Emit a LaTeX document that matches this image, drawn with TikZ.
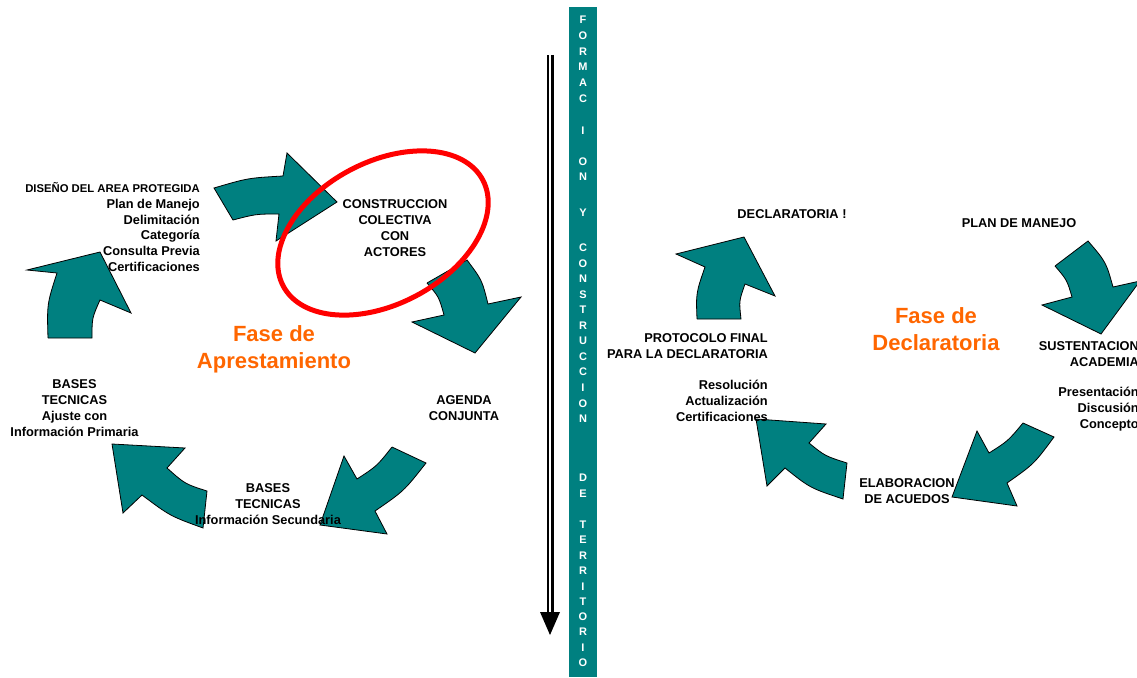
\documentclass[tikz,border=0pt]{standalone}
\usepackage{fontspec}
\setmainfont{Liberation Sans}
\definecolor{peacock}{rgb}{0.0, 0.5, 0.5}
\definecolor{pumpkin}{rgb}{1.0, 0.4, 0.0}
\begin{document}
\begin{tikzpicture}[x=1pt,y=-1pt,
    flecha/.style={fill=peacock,draw=black,line width=0.8pt},
    rotulo/.style={font=\bfseries\fontsize{12.8}{15.8}\selectfont,inner sep=0pt},
    fase/.style={font=\bfseries\fontsize{22}{27}\selectfont,text=pumpkin,align=center,inner sep=0pt},
    letra/.style={font=\bfseries\fontsize{11}{11}\selectfont,text=white,inner sep=0pt}]
\useasboundingbox (0,0) rectangle (1137,677);

% ciclo de aprestamiento
\filldraw[flecha] (214,188) .. controls (248,178) .. (283,176) -- (287,153) -- (337,202) -- (276,241) -- (279,214) .. controls (256,214) .. (233,220) -- cycle;
\filldraw[flecha] (427,283) -- (467,260) .. controls (482,280) .. (488,304) -- (521,297) -- (475,353) -- (412,322) -- (444,315) .. controls (439,297) .. (427,283);
\filldraw[flecha] (392,447) -- (426,463) .. controls (404,491) .. (375,511) -- (387,534) -- (320,525) -- (344,456) -- (357,479) .. controls (377,466) .. (392,447);
\filldraw[flecha] (112,444) -- (185,448) -- (167,468) .. controls (185,484) .. (207,491) -- (203,528) .. controls (170,516) .. (142,495) -- (123,513) -- cycle;
\filldraw[flecha] (48,338) -- (92,338) .. controls (92,318) .. (100,300) -- (131,313) -- (100,252) -- (27,270) -- (57,273) .. controls (47,304) .. (48,338);

\draw[red,line width=5pt,rotate around={28:(383,233)}] (383,233) ellipse (113 and 71);

\node[rotulo,align=right,anchor=east] (diseno) at (200,227) {{\fontsize{11.3}{15.6}\selectfont DISEÑO DEL AREA PROTEGIDA}\\Plan de Manejo\\Delimitación\\Categoría\\Consulta Previa\\Certificaciones};
\node[rotulo,align=center] (construccion) at (395,228) {CONSTRUCCION\\COLECTIVA\\CON\\ACTORES};
\node[rotulo,align=center] (agenda) at (464,408) {AGENDA\\CONJUNTA};
\node[rotulo,align=center] (secundaria) at (268,504) {BASES\\TECNICAS\\Información Secundaria};
\node[rotulo,align=center] (primaria) at (74.5,408) {BASES\\TECNICAS\\Ajuste con\\Información Primaria};
\node[fase,anchor=north] (apresta) at (274,325) {Fase de\\Aprestamiento};

% banda central
\fill[peacock] (569,7) rectangle (597,677);
\foreach \ch/\y [count=\i] in {F/20,O/36,R/52,M/67,A/83,C/99,I/131,O/162,N/177,Y/213,C/248,O/264,N/279,S/295,T/310,R/326,U/341,C/357,C/372,I/388,O/404,N/419,D/478,E/494,T/525,E/540,R/556,R/571,I/587,T/602,O/617,R/632,I/648,O/663}
  \node[letra] (letra\i) at (583,\y) {\ch};

\coordinate (flechaTop) at (550,55);
\coordinate (flechaPunta) at (550,635);
\draw[double=white,double distance=2pt,line width=2.5pt,shorten >=21pt] (flechaTop) -- (flechaPunta);
\fill[black] (flechaPunta) -- ++(-10,-23) -- ++(20,0) -- cycle;

% ciclo de declaratoria
\filldraw[flecha] (697,319) -- (741,319) .. controls (739,301) .. (745,284) -- (775,296) -- (744,237) -- (676,254) -- (705,267) .. controls (696,293) .. (697,319);
\filldraw[flecha] (1055,266) -- (1088,241) .. controls (1106,262) .. (1113,287) -- (1140,281) -- (1101,334) -- (1042,305) -- (1072,297) .. controls (1067,280) .. (1055,266);
\filldraw[flecha] (1023,423) -- (1054,437) .. controls (1034,464) .. (1007,483) -- (1017,506) -- (952,497) -- (977,431) -- (989,453) .. controls (1008,441) .. (1023,423);
\filldraw[flecha] (756,419) -- (826,424) -- (809,443) .. controls (825,456) .. (847,463) -- (843,499) .. controls (810,488) .. (785,468) -- (767,486) -- cycle;

\node[rotulo] (declaratoria) at (792,214) {DECLARATORIA !};
\node[rotulo] (plan) at (1019,223) {PLAN DE MANEJO};
\node[fase,anchor=north] (declaFase) at (936,307) {Fase de\\Declaratoria};
\node[rotulo,align=right,anchor=east] (protocolo) at (768,346) {PROTOCOLO FINAL\\PARA LA DECLARATORIA};
\node[rotulo,align=right,anchor=east] (resolucion) at (768,401) {Resolución\\Actualización\\Certificaciones};
\node[rotulo,align=right,anchor=east] (sustenta) at (1139,354) {SUSTENTACION\\ACADEMIA};
\node[rotulo,align=right,anchor=east] (presenta) at (1139,409) {Presentación\\Discusión\\Concepto};
\node[rotulo,align=center] (elabora) at (907,491) {ELABORACION\\DE ACUEDOS};
\end{tikzpicture}
\end{document}
